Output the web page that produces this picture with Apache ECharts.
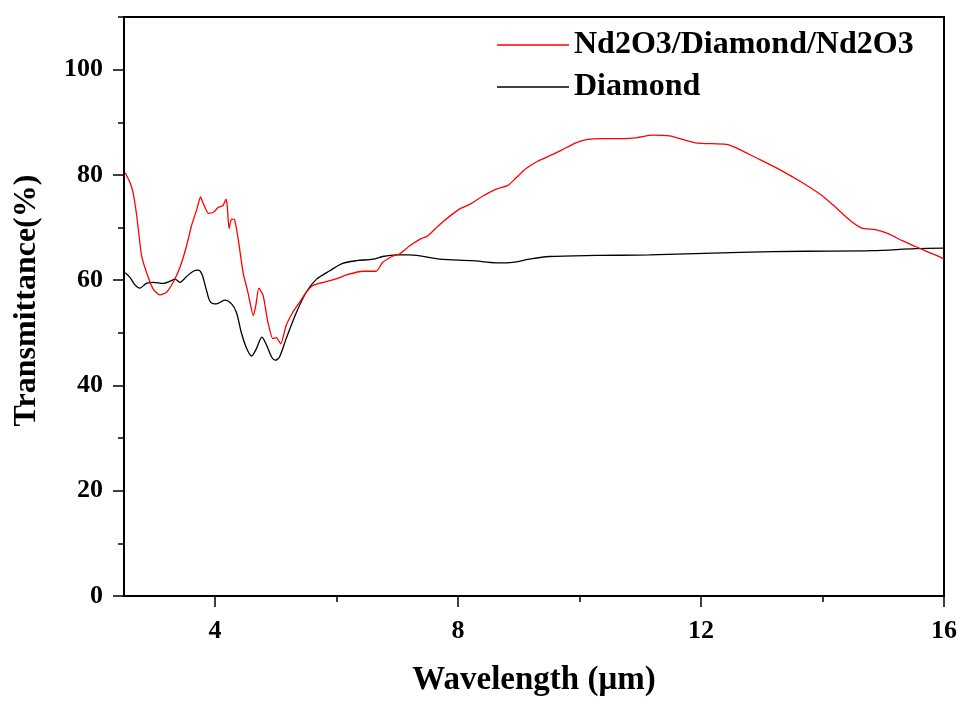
<!DOCTYPE html>
<html>
<head>
<meta charset="utf-8">
<script src="https://cdn.jsdelivr.net/npm/echarts@6/dist/echarts.min.js"></script>
<style>
html,body{margin:0;padding:0;background:#fff;}
#chart{width:960px;height:702px;}
</style>
</head>
<body>
<div id="chart"></div>
<script>
// Wavelength (µm) and transmittance (%)
const seriesNames = ['Nd2O3/Diamond/Nd2O3', 'Diamond'];

const redX = [2.52,2.6,2.65,2.71,2.79,2.87,2.98,3.09,3.2,3.31,3.42,3.53,3.61,3.7,3.76,3.8,3.89,3.97,4.05,4.13,4.18,4.2,4.23,4.27,4.32,4.38,4.46,4.54,4.63,4.67,4.72,4.79,4.87,4.95,5.01,5.08,5.17,5.28,5.39,5.5,5.61,5.78,5.89,6.05,6.16,6.43,6.65,6.76,6.93,7.04,7.2,7.39,7.5,7.7,8.02,8.19,8.41,8.63,8.82,8.96,9.12,9.31,9.56,9.72,9.94,10.11,10.38,10.71,10.95,11.2,11.48,11.91,12.41,12.57,12.9,13.28,13.67,14.0,14.22,14.46,14.65,14.87,15.09,15.31,15.53,15.75,15.97,16.0];
const redY = [80.4,78.5,76.6,72.2,64.6,61.5,58.3,57.2,57.7,59.6,62.4,66.5,70.3,73.5,75.8,74.7,72.7,72.9,73.8,74.2,75.4,74.1,69.8,71.6,71.5,67.8,61.5,57.7,53.3,55.2,58.5,57.1,52.0,48.9,49.1,47.9,51.4,53.9,55.8,57.7,59.0,59.6,59.9,60.5,61.0,61.7,61.7,63.4,64.6,65.0,66.5,67.9,68.4,70.6,73.5,74.4,76.0,77.3,78.0,79.5,81.2,82.6,83.9,84.8,86.1,86.7,86.9,86.9,87.1,87.55,87.4,86.1,85.8,85.2,83.3,81.1,78.5,76.0,73.8,71.3,69.9,69.6,68.8,67.5,66.4,65.3,64.2,64.1];

const blackX = [2.52,2.6,2.68,2.76,2.87,2.98,3.15,3.26,3.34,3.42,3.53,3.64,3.72,3.78,3.86,3.92,4.02,4.16,4.27,4.35,4.43,4.52,4.6,4.68,4.77,4.85,4.93,4.99,5.06,5.17,5.34,5.5,5.67,5.89,6.1,6.33,6.6,6.76,6.98,7.2,7.7,8.24,8.63,8.9,9.17,9.5,10.27,11.15,12.64,13.72,14.82,15.53,16.0];
const blackY = [61.4,60.5,59.1,58.5,59.4,59.6,59.4,59.8,60.2,59.6,60.7,61.7,61.9,61.2,58.0,55.9,55.5,56.2,55.5,53.9,50.1,47.0,45.6,47.0,49.2,47.6,45.4,44.8,45.4,48.9,53.9,57.7,60.2,61.8,63.2,63.7,64.0,64.5,64.8,64.8,64.0,63.7,63.3,63.4,64.0,64.5,64.7,64.8,65.3,65.5,65.6,66.0,66.1];

const xMajorTicks = [4, 8, 12, 16];
const xMinorTicks = [6, 10, 14];
const yMajorTicks = [0, 20, 40, 60, 80, 100];
const yMinorTicks = [10, 30, 50, 70, 90, 110];

const pair = (xs, ys) => xs.map((x, i) => [x, ys[i]]);

const FONT = '"Liberation Serif", "Times New Roman", serif';
const chart = echarts.init(document.getElementById('chart'), null, {renderer: 'canvas'});

const gridPos = {left: 124, right: 15, top: 17, bottom: 104};

function xAxisBase(extra) {
  return Object.assign({
    type: 'value', min: 2.5, max: 16, gridIndex: 0,
    splitLine: {show: false},
    axisLine: {show: true, onZero: false, lineStyle: {color: '#000', width: 2}},
  }, extra);
}
function yAxisBase(extra) {
  return Object.assign({
    type: 'value', min: 0, max: 110, gridIndex: 0,
    splitLine: {show: false},
    axisLine: {show: true, onZero: false, lineStyle: {color: '#000', width: 2}},
  }, extra);
}

chart.setOption({
  animation: false,
  backgroundColor: '#fff',
  grid: Object.assign({show: true, borderColor: '#000', borderWidth: 2, backgroundColor: 'transparent'}, gridPos),
  legend: {
    orient: 'vertical',
    left: 492, top: 24,
    icon: 'rect',
    itemWidth: 72, itemHeight: 1.3, itemGap: 10,
    textStyle: {fontFamily: FONT, fontWeight: 'bold', fontSize: 32, color: '#000', lineHeight: 31},
    data: seriesNames
  },
  xAxis: [
    xAxisBase({
      position: 'bottom',
      name: 'Wavelength (μm)', nameLocation: 'middle', nameGap: 68,
      nameTextStyle: {fontFamily: FONT, fontWeight: 'bold', fontSize: 33, color: '#000'},
      axisTick: {show: true, inside: false, length: 11, customValues: xMajorTicks, lineStyle: {color: '#000', width: 1.5}},
      axisLabel: {show: true, customValues: xMajorTicks, margin: 22, fontFamily: FONT, fontWeight: 'bold', fontSize: 26, color: '#000'}
    }),
    xAxisBase({
      position: 'bottom',
      axisLine: {show: false},
      axisTick: {show: true, inside: false, length: 6, customValues: xMinorTicks, lineStyle: {color: '#000', width: 1.5}},
      axisLabel: {show: false}
    })
  ],
  yAxis: [
    yAxisBase({
      position: 'left',
      name: 'Transmittance(%)', nameLocation: 'middle', nameGap: 81,
      nameTextStyle: {fontFamily: FONT, fontWeight: 'bold', fontSize: 32, color: '#000', padding: [0, 0, 0, 12]},
      axisTick: {show: true, inside: false, length: 11, customValues: yMajorTicks, lineStyle: {color: '#000', width: 1.5}},
      axisLabel: {show: true, customValues: yMajorTicks, margin: 21, fontFamily: FONT, fontWeight: 'bold', fontSize: 26, color: '#000'}
    }),
    yAxisBase({
      position: 'left',
      axisLine: {show: false},
      axisTick: {show: true, inside: false, length: 6, customValues: yMinorTicks, lineStyle: {color: '#000', width: 1.5}},
      axisLabel: {show: false}
    })
  ],
  series: [
    {
      name: seriesNames[0], type: 'line', xAxisIndex: 0, yAxisIndex: 0,
      data: pair(redX, redY), showSymbol: false, symbol: 'none', smooth: 0.2,
      lineStyle: {color: '#ff0000', width: 1.3}, itemStyle: {color: '#ff0000'}, z: 3
    },
    {
      name: seriesNames[1], type: 'line', xAxisIndex: 0, yAxisIndex: 0,
      data: pair(blackX, blackY), showSymbol: false, symbol: 'none', smooth: 0.3,
      lineStyle: {color: '#000', width: 1.3}, itemStyle: {color: '#000'}, z: 2
    }
  ]
});
</script>
</body>
</html>
